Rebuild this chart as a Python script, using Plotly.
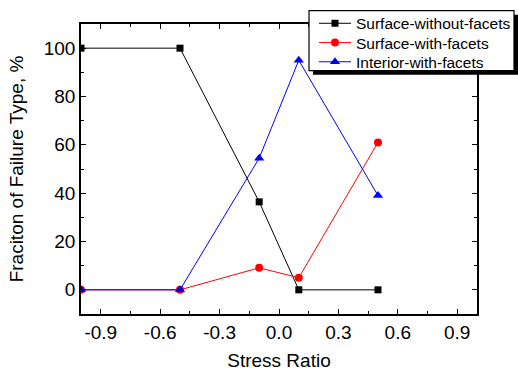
import plotly.graph_objects as go

stress_ratio = [-1.0, -0.5, -0.1, 0.1, 0.5]
surface_without = [100, 100, 36.4, 0, 0]
surface_with = [0, 0, 9.1, 5.0, 61]
interior_with = [0, 0, 54.5, 95, 39]

FONT = "Liberation Sans, Arial, sans-serif"

fig = go.Figure()
fig.add_trace(go.Scatter(x=stress_ratio, y=surface_without, name="Surface-without-facets",
                         mode="lines+markers", line=dict(color="black", width=1),
                         marker=dict(symbol="square", size=7, color="black"), legend="legend"))
fig.add_trace(go.Scatter(x=stress_ratio, y=surface_with, name="Surface-with-facets",
                         mode="lines+markers", line=dict(color="red", width=1),
                         marker=dict(symbol="circle", size=8, color="red"), legend="legend2"))
fig.add_trace(go.Scatter(x=stress_ratio, y=interior_with, name="Interior-with-facets",
                         mode="lines+markers", line=dict(color="blue", width=1),
                         marker=dict(symbol="triangle-up", size=9, color="blue"), legend="legend3"))

axis_common = dict(showgrid=False, zeroline=False, showline=True, linecolor="black", linewidth=1.5,
                   mirror="allticks", ticks="inside", ticklen=5, tickwidth=1, tickcolor="black",
                   automargin=False,
                   tickfont=dict(family=FONT, size=19, color="black"))

fig.update_xaxes(range=[-1.0, 1.0], tickvals=[-0.9, -0.6, -0.3, 0.0, 0.3, 0.6, 0.9],
                 ticktext=["-0.9", "-0.6", "-0.3", "0.0", "0.3", "0.6", "0.9"],
                 minor=dict(ticks="inside", ticklen=3, dtick=0.15, tick0=-0.9, tickcolor="black"),
                 title=dict(text="Stress Ratio", font=dict(family=FONT, size=19, color="black")),
                 **axis_common)
fig.update_yaxes(range=[-10, 110], tickvals=[0, 20, 40, 60, 80, 100],
                 minor=dict(ticks="inside", ticklen=3, dtick=10, tick0=0, tickcolor="black"),
                 title=dict(text="Fraciton of Failure Type, %", font=dict(family=FONT, size=19, color="black")),
                 **axis_common)

# plot area in pixels (for converting the legend frame to paper coordinates)
PL, PR, PT, PB = 81, 477, 24, 314
def px_x(v):
    return (v - PL) / (PR - PL)
def px_y(v):
    return (PB - v) / (PB - PT)

# legend frame with drop shadow
BOX_L, BOX_R, BOX_T, BOX_B = 309, 514, 10.7, 70.7
SH = 4
fig.add_shape(type="rect", xref="paper", yref="paper",
              x0=px_x(BOX_L + SH), x1=px_x(BOX_R + SH), y0=px_y(BOX_B + SH), y1=px_y(BOX_T + SH),
              fillcolor="black", line=dict(width=0), layer="above")
fig.add_shape(type="rect", xref="paper", yref="paper",
              x0=px_x(BOX_L), x1=px_x(BOX_R), y0=px_y(BOX_B), y1=px_y(BOX_T),
              fillcolor="white", line=dict(color="black", width=1.2), layer="above")

ROWS = [23.7, 43.0, 62.2]
leg_common = dict(x=px_x(314), xanchor="left", yanchor="middle",
                  bgcolor="rgba(0,0,0,0)", borderwidth=0,
                  font=dict(family=FONT, size=15.5, color="black"),
                  tracegroupgap=0, itemwidth=32)

fig.update_layout(
    width=518, height=371,
    margin=dict(l=PL, r=518 - PR, t=PT, b=371 - PB, autoexpand=False),
    plot_bgcolor="white", paper_bgcolor="white",
    showlegend=True,
    legend=dict(y=px_y(ROWS[0]), **leg_common),
    legend2=dict(y=px_y(ROWS[1]), **leg_common),
    legend3=dict(y=px_y(ROWS[2]), **leg_common),
)

fig.write_html("out.html")
